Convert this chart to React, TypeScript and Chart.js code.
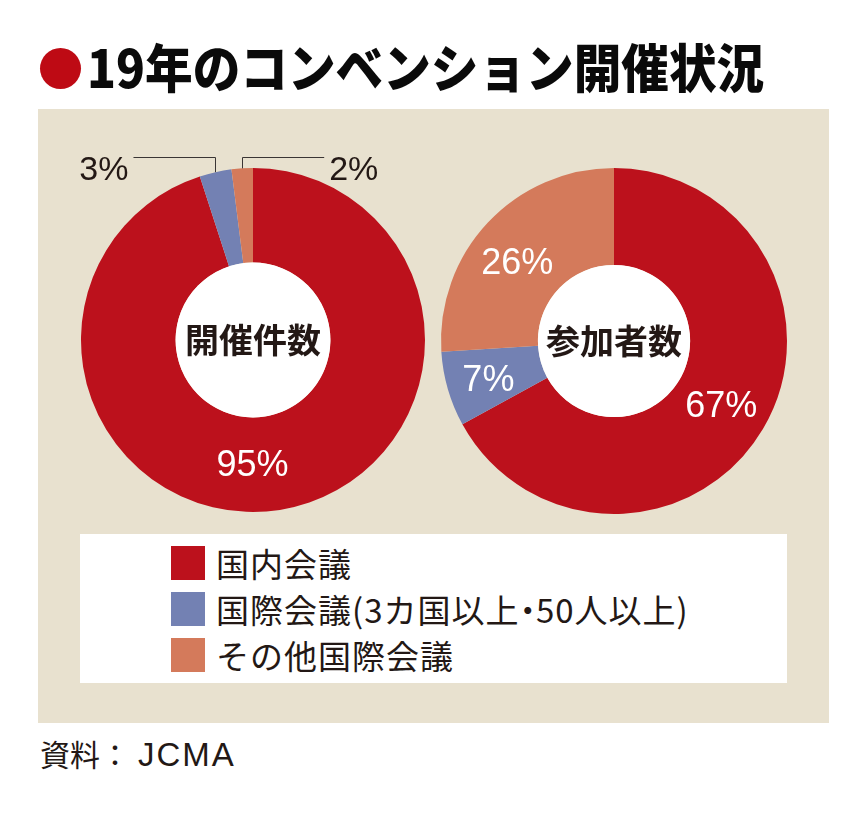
import React, { useEffect, useRef } from "react";
import { Chart, registerables } from "chart.js";

Chart.register(...registerables);

// ---- data ----
const CATEGORIES = ["国内会議", "国際会議(3カ国以上・50人以上)", "その他国際会議"];
const COUNT_SHARE = [95, 3, 2]; // 開催件数 (%)
const ATTENDEE_SHARE = [67, 7, 26]; // 参加者数 (%)
const CHART_NAMES = ["開催件数", "参加者数"];
const TITLE = "19年のコンベンション開催状況";
const SOURCE_LABEL = "資料：";
const SOURCE_NAME = "JCMA";

// ---- styles ----
const COLORS = ["#BC111C", "#7381B3", "#D47A5B"];
const INK = "#231815";
const PANEL = "#E8E1CF";
const LEFT_SHIFT = [[-20, 0], [0, 0], [0, 0]];
const RIGHT_SHIFT = [[0, 0], [-6, 2], [-6, 5]];

const sliceLabelPlugin = {
  id: "sliceLabels",
  afterDatasetsDraw(chart: any, _args: any, opts: any) {
    const ctx = chart.ctx as CanvasRenderingContext2D;
    const meta = chart.getDatasetMeta(0);
    const data = chart.data.datasets[0].data as number[];
    const first: any = meta.data[0];
    const cx = first.x;
    const cy = first.y;
    const outer = first.outerRadius;
    const inner = first.innerRadius;
    ctx.save();
    // white hole
    ctx.fillStyle = "#FFFFFF";
    ctx.beginPath();
    ctx.arc(cx, cy, inner, 0, Math.PI * 2);
    ctx.fill();
    // center name
    ctx.fillStyle = INK;
    ctx.font = "bold 34px 'Noto Sans CJK JP'";
    ctx.textAlign = "center";
    ctx.textBaseline = "alphabetic";
    ctx.fillText(opts.center, cx, cy + 13);

    const small: { i: number; px: number; py: number }[] = [];
    meta.data.forEach((arc: any, i: number) => {
      const v = data[i];
      if (v >= 5) {
        const p = arc.tooltipPosition(false);
        const s = (opts.shift && opts.shift[i]) || [0, 0];
        ctx.fillStyle = "#FFFFFF";
        ctx.font = "36px 'Liberation Sans'";
        ctx.textAlign = "center";
        ctx.fillText(v + "%", p.x + s[0], p.y + s[1] + 13);
      } else {
        const mid = (arc.startAngle + arc.endAngle) / 2;
        small.push({ i, px: cx + Math.cos(mid) * outer, py: cy + Math.sin(mid) * outer });
      }
    });
    small.sort((a, b) => a.px - b.px);
    const ly = cy - outer - 11;
    small.forEach((s, k) => {
      const dir = k === 0 ? -1 : 1;
      const ex = s.px + dir * 82;
      ctx.strokeStyle = "#3A3534";
      ctx.lineWidth = 1;
      ctx.beginPath();
      ctx.moveTo(Math.round(s.px) + 0.5, s.py);
      ctx.lineTo(Math.round(s.px) + 0.5, Math.round(ly) + 0.5);
      ctx.lineTo(ex, Math.round(ly) + 0.5);
      ctx.stroke();
      ctx.fillStyle = INK;
      ctx.font = "34px 'Liberation Sans'";
      ctx.textAlign = dir < 0 ? "right" : "left";
      ctx.fillText(data[s.i] + "%", ex + dir * 5, ly + 23);
    });
    ctx.restore();
  },
};

function Doughnut(props: {
  values: number[];
  name: string;
  shift: number[][];
  left: number;
  top: number;
  width: number;
  height: number;
  padding: { left: number; right: number; top: number; bottom: number };
  cutout: string;
}) {
  const ref = useRef<HTMLCanvasElement>(null);
  useEffect(() => {
    if (!ref.current) return;
    const chart = new Chart(ref.current, {
      type: "doughnut",
      data: {
        labels: CATEGORIES,
        datasets: [
          {
            data: props.values,
            backgroundColor: COLORS,
            borderWidth: 0,
            hoverOffset: 0,
          },
        ],
      },
      options: {
        responsive: false,
        animation: false,
        events: [],
        cutout: props.cutout,
        layout: { padding: props.padding },
        plugins: {
          legend: { display: false },
          tooltip: { enabled: false },
          sliceLabels: { center: props.name, shift: props.shift },
        } as any,
      },
      plugins: [sliceLabelPlugin],
    });
    return () => chart.destroy();
  }, []);
  return (
    <canvas
      ref={ref}
      width={props.width}
      height={props.height}
      style={{
        position: "absolute",
        left: props.left,
        top: props.top,
        width: props.width,
        height: props.height,
      }}
    />
  );
}

function LegendText(props: { text: string }) {
  const parts = props.text.split("・");
  return (
    <>
      {parts.map((p, i) => (
        <React.Fragment key={i}>
          {i > 0 && <span style={{ fontFeatureSettings: "'palt'", letterSpacing: 0 }}>・</span>}
          {p}
        </React.Fragment>
      ))}
    </>
  );
}

export default function App() {
  const jp = "'Noto Sans CJK JP', sans-serif";
  return (
    <div
      style={{
        position: "absolute",
        left: 0,
        top: 0,
        width: 868,
        height: 813,
        background: "#FFFFFF",
        overflow: "hidden",
        fontFamily: jp,
        color: INK,
      }}
    >
      {/* title */}
      <div
        style={{
          position: "absolute",
          left: 40,
          top: 48,
          width: 41,
          height: 41,
          borderRadius: "50%",
          background: "#BE0A14",
        }}
      />
      <div
        style={{
          position: "absolute",
          left: 87,
          top: 40,
          fontSize: 52,
          lineHeight: "52px",
          fontWeight: 900,
          whiteSpace: "nowrap",
          color: "#0A0A0A",
          transform: "scaleX(0.916)",
          transformOrigin: "0 0",
        }}
      >
        {TITLE}
      </div>

      {/* panel */}
      <div
        style={{
          position: "absolute",
          left: 38,
          top: 109,
          width: 791,
          height: 614,
          background: PANEL,
        }}
      />

      <Doughnut
        values={COUNT_SHARE}
        name={CHART_NAMES[0]}
        shift={LEFT_SHIFT}
        left={40}
        top={130}
        width={400}
        height={400}
        padding={{ left: 41, right: 15, top: 38, bottom: 18 }}
        cutout="45%"
      />
      <Doughnut
        values={ATTENDEE_SHARE}
        name={CHART_NAMES[1]}
        shift={RIGHT_SHIFT}
        left={430}
        top={130}
        width={398}
        height={400}
        padding={{ left: 11, right: 41, top: 38, bottom: 16 }}
        cutout="44%"
      />

      {/* legend */}
      <div
        style={{
          position: "absolute",
          left: 80,
          top: 534,
          width: 707,
          height: 149,
          background: "#FFFFFF",
        }}
      />
      {CATEGORIES.map((c, i) => (
        <React.Fragment key={c}>
          <div
            style={{
              position: "absolute",
              left: 171,
              top: 546 + i * 46,
              width: 34,
              height: 34,
              background: COLORS[i],
            }}
          />
          <div
            style={{
              position: "absolute",
              left: 216,
              top: 546 + i * 46,
              height: 34,
              fontSize: 33,
              lineHeight: "34px",
              letterSpacing: 1,
              whiteSpace: "nowrap",
            }}
          >
            <LegendText text={c} />
          </div>
        </React.Fragment>
      ))}

      {/* source */}
      <div
        style={{
          position: "absolute",
          left: 40,
          top: 738,
          fontSize: 30,
          lineHeight: "30px",
          whiteSpace: "nowrap",
        }}
      >
        {SOURCE_LABEL}
        <span
          style={{
            fontFamily: "'Liberation Sans', sans-serif",
            fontSize: 33,
            letterSpacing: 2,
            marginLeft: 8,
          }}
        >
          {SOURCE_NAME}
        </span>
      </div>
    </div>
  );
}
